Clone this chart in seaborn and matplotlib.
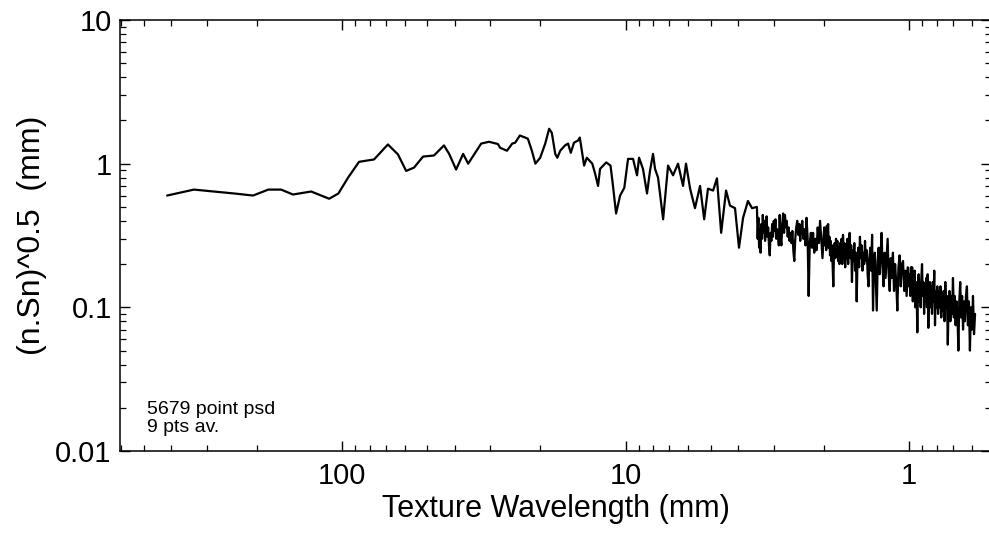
import numpy as np
import pandas as pd
import matplotlib
matplotlib.use("Agg")
import matplotlib.pyplot as plt
import seaborn as sns
from matplotlib.ticker import LogLocator, NullFormatter, FixedLocator, FixedFormatter

# ---- data ----
# long-wavelength, smooth part
wl_smooth = [414, 333, 283, 240, 206, 182, 164, 149, 128.5, 111, 103, 95.2, 87.1, 77.1,
             68.9, 63.5, 59.4, 55.7, 51.8, 47.4, 43.7, 41.9, 39.6, 37.4, 35.9, 34.2,
             32.3, 30.3, 28.2]
val_smooth = [0.60, 0.66, 0.64, 0.62, 0.60, 0.66, 0.66, 0.61, 0.64, 0.57, 0.62, 0.80, 1.03, 1.07,
              1.36, 1.16, 0.89, 0.94, 1.12, 1.14, 1.34, 1.17, 0.91, 1.17, 1.00, 1.16,
              1.38, 1.42, 1.37]

# mid part
wl_mid = [27.7, 26.2, 25.1, 24.5, 23.6, 22.6, 22.1, 21.4, 20.8, 20.0, 19.2, 18.6, 18.2,
          17.7, 17.4, 17.0, 16.35, 15.95, 15.6, 15.2, 14.7, 14.5, 14.0, 13.7, 13.1, 12.8,
          12.5, 12.3, 11.7, 11.3, 11.1, 10.8, 10.45, 10.1, 9.80, 9.41, 9.11, 8.96, 8.68,
          8.40, 8.20, 8.00, 7.87, 7.68, 7.37, 7.08, 6.80, 6.53, 6.27, 6.12, 5.92, 5.69,
          5.46, 5.28, 5.12, 4.91, 4.76, 4.60, 4.42, 4.28, 4.11, 3.98, 3.85, 3.70, 3.58]
val_mid = [1.29, 1.23, 1.38, 1.40, 1.57, 1.52, 1.49, 1.23, 1.00, 1.10, 1.38, 1.75, 1.64,
           1.17, 1.10, 1.23, 1.34, 1.38, 1.19, 1.40, 1.45, 1.52, 0.97, 1.10, 1.00, 0.85,
           0.70, 0.92, 1.02, 0.97, 0.73, 0.45, 0.60, 0.68, 1.08, 1.08, 0.83, 1.10, 0.92,
           0.62, 0.89, 1.17, 0.92, 0.80, 0.41, 0.97, 0.83, 1.00, 0.70, 1.00, 0.67, 0.49,
           0.70, 0.41, 0.67, 0.65, 0.79, 0.33, 0.65, 0.51, 0.49, 0.26, 0.42, 0.55, 0.49]

# short-wavelength, dense noisy part
wl_dense_a = [3.44, 3.42, 3.40, 3.38, 3.36, 3.34, 3.32, 3.30, 3.28, 3.26, 3.24, 3.22, 3.20,
              3.18, 3.16, 3.14, 3.12, 3.10, 3.08, 3.06, 3.04, 3.02, 3.00, 2.98, 2.96, 2.94,
              2.92, 2.90, 2.88, 2.86, 2.84, 2.82, 2.80, 2.78, 2.76, 2.74, 2.72, 2.70, 2.68,
              2.66, 2.64, 2.62, 2.60, 2.58, 2.56, 2.54, 2.52, 2.50, 2.48, 2.46, 2.44, 2.42,
              2.40, 2.38, 2.36, 2.34, 2.32, 2.30, 2.28, 2.26, 2.24, 2.22, 2.20, 2.18, 2.16,
              2.14, 2.12, 2.10, 2.08, 2.06, 2.04, 2.02, 2.00]
val_dense_a = [0.50, 0.30, 0.42, 0.26, 0.35, 0.24, 0.38, 0.30, 0.44, 0.33, 0.40, 0.29, 0.37,
               0.43, 0.31, 0.36, 0.27, 0.23, 0.33, 0.29, 0.38, 0.31, 0.40, 0.34, 0.41, 0.30,
               0.35, 0.33, 0.27, 0.44, 0.30, 0.27, 0.38, 0.45, 0.33, 0.44, 0.36, 0.40, 0.31,
               0.36, 0.29, 0.33, 0.28, 0.34, 0.25, 0.21, 0.30, 0.36, 0.40, 0.32, 0.38, 0.29,
               0.36, 0.40, 0.30, 0.35, 0.27, 0.42, 0.31, 0.12, 0.28, 0.33, 0.26, 0.33, 0.24,
               0.30, 0.25, 0.36, 0.28, 0.40, 0.30, 0.22, 0.32]

wl_dense_b = [1.99, 1.98, 1.97, 1.96, 1.95, 1.94, 1.93, 1.92, 1.91, 1.90, 1.89, 1.88, 1.87,
              1.86, 1.85, 1.84, 1.83, 1.82, 1.81, 1.80, 1.79, 1.78, 1.77, 1.76, 1.75, 1.74,
              1.73, 1.72, 1.71, 1.70, 1.69, 1.68, 1.67, 1.66, 1.65, 1.64, 1.63, 1.62, 1.61,
              1.60, 1.59, 1.58, 1.57, 1.56, 1.55, 1.54, 1.53, 1.52, 1.51, 1.50, 1.49, 1.48,
              1.47, 1.46, 1.45, 1.44, 1.43, 1.42, 1.41, 1.40, 1.39, 1.38, 1.37, 1.36, 1.35,
              1.34, 1.33, 1.32, 1.31, 1.30, 1.29, 1.28, 1.27, 1.26, 1.25, 1.24, 1.23, 1.22,
              1.21, 1.20, 1.19, 1.18, 1.17, 1.16, 1.15, 1.14, 1.13, 1.12, 1.11, 1.10, 1.09,
              1.08, 1.07, 1.06, 1.05, 1.04, 1.03, 1.02, 1.01, 1.00]
val_dense_b = [0.36, 0.27, 0.33, 0.25, 0.37, 0.29, 0.38, 0.26, 0.31, 0.23, 0.29, 0.21, 0.27,
               0.19, 0.14, 0.24, 0.28, 0.22, 0.30, 0.25, 0.29, 0.21, 0.26, 0.20, 0.28, 0.23,
               0.30, 0.20, 0.32, 0.24, 0.28, 0.19, 0.26, 0.22, 0.30, 0.20, 0.27, 0.33, 0.22,
               0.27, 0.15, 0.25, 0.21, 0.28, 0.18, 0.24, 0.11, 0.22, 0.26, 0.19, 0.31, 0.22,
               0.27, 0.18, 0.24, 0.20, 0.29, 0.21, 0.25, 0.17, 0.14, 0.22, 0.26, 0.18, 0.32,
               0.095, 0.20, 0.24, 0.15, 0.095, 0.21, 0.26, 0.17, 0.23, 0.33, 0.19, 0.14, 0.24,
               0.16, 0.22, 0.30, 0.17, 0.13, 0.22, 0.16, 0.24, 0.13, 0.20, 0.15, 0.095, 0.19,
               0.23, 0.14, 0.20, 0.21, 0.13, 0.18, 0.12, 0.19, 0.14]

wl_dense_c = [0.995, 0.990, 0.985, 0.980, 0.975, 0.970, 0.965, 0.960, 0.955, 0.950, 0.945,
              0.940, 0.935, 0.930, 0.925, 0.920, 0.915, 0.910, 0.905, 0.900, 0.895, 0.890,
              0.885, 0.880, 0.875, 0.870, 0.865, 0.860, 0.855, 0.850, 0.845, 0.840, 0.835,
              0.830, 0.825, 0.820, 0.815, 0.810, 0.805, 0.800, 0.795, 0.790, 0.785, 0.780,
              0.775, 0.770, 0.765, 0.760, 0.755, 0.750, 0.745, 0.740, 0.735, 0.730, 0.725,
              0.720, 0.715, 0.710, 0.705, 0.700, 0.695, 0.690, 0.685, 0.680, 0.675, 0.670,
              0.665, 0.660, 0.655, 0.650, 0.645, 0.640, 0.635, 0.630, 0.625, 0.620, 0.615,
              0.610, 0.605, 0.600, 0.595, 0.590, 0.585]
val_dense_c = [0.17, 0.12, 0.19, 0.14, 0.19, 0.11, 0.16, 0.12, 0.18, 0.10, 0.15,
               0.12, 0.067, 0.14, 0.17, 0.11, 0.15, 0.10, 0.16, 0.20, 0.12, 0.15,
               0.09, 0.14, 0.11, 0.16, 0.10, 0.17, 0.072, 0.13, 0.15, 0.10, 0.14,
               0.09, 0.15, 0.11, 0.18, 0.075, 0.13, 0.10, 0.14, 0.09, 0.13, 0.10,
               0.14, 0.085, 0.12, 0.095, 0.13, 0.08, 0.15, 0.10, 0.12, 0.055, 0.11,
               0.13, 0.08, 0.12, 0.09, 0.16, 0.085, 0.12, 0.075, 0.11, 0.09, 0.05,
               0.11, 0.15, 0.085, 0.12, 0.07, 0.11, 0.08, 0.12, 0.14, 0.075, 0.11,
               0.05, 0.10, 0.07, 0.12, 0.065, 0.09]

x_ticks = [100, 10, 1]
x_tick_labels = ["100", "10", "1"]
y_ticks = [0.01, 0.1, 1, 10]
y_tick_labels = ["0.01", "0.1", "1", "10"]

df = pd.DataFrame({
    "wavelength": wl_smooth + wl_mid + wl_dense_a + wl_dense_b + wl_dense_c,
    "amp": val_smooth + val_mid + val_dense_a + val_dense_b + val_dense_c,
})

# ---- style ----
sns.set_theme(style="ticks")
plt.rcParams["font.family"] = ["Liberation Sans", "DejaVu Sans"]

fig = plt.figure(figsize=(9.89, 5.38), dpi=100)
ax = fig.add_axes([120 / 989, 87 / 538, 871 / 989, 431 / 538])

sns.lineplot(data=df, x="wavelength", y="amp", ax=ax, color="black",
             linewidth=1.6, estimator=None, sort=False)

ax.set_xscale("log")
ax.set_yscale("log")
ax.set_xlim(607, 0.514)
ax.set_ylim(0.01, 10)

ax.xaxis.set_major_locator(FixedLocator(x_ticks))
ax.xaxis.set_major_formatter(FixedFormatter(x_tick_labels))
ax.yaxis.set_major_locator(FixedLocator(y_ticks))
ax.yaxis.set_major_formatter(FixedFormatter(y_tick_labels))
ax.xaxis.set_minor_locator(LogLocator(base=10, subs=np.arange(2, 10), numticks=20))
ax.yaxis.set_minor_locator(LogLocator(base=10, subs=np.arange(2, 10), numticks=20))
ax.xaxis.set_minor_formatter(NullFormatter())
ax.yaxis.set_minor_formatter(NullFormatter())

ax.tick_params(which="both", direction="in", top=True, right=True, colors="black")
ax.tick_params(which="major", length=7, width=1.0, labelsize=21)
ax.tick_params(which="minor", length=4, width=0.9)
ax.tick_params(axis="x", which="major", pad=8)
ax.tick_params(axis="y", which="major", pad=6)

for s in ax.spines.values():
    s.set_visible(True)
    s.set_color("black")
    s.set_linewidth(1.1)

ax.set_xlabel("Texture Wavelength (mm)", fontsize=22, labelpad=3, color="black")
ax.set_ylabel("(n.Sn)^0.5  (mm)", fontsize=23, labelpad=6, color="black")

ax.text((147 - 120) / 871, (451 - 432) / 431, "5679 point psd\n9 pts av.",
        transform=ax.transAxes, fontsize=14, color="black", va="baseline", ha="left",
        linespacing=1.08)

ax.grid(False)
fig.savefig("out.png", dpi=100, facecolor="white")
